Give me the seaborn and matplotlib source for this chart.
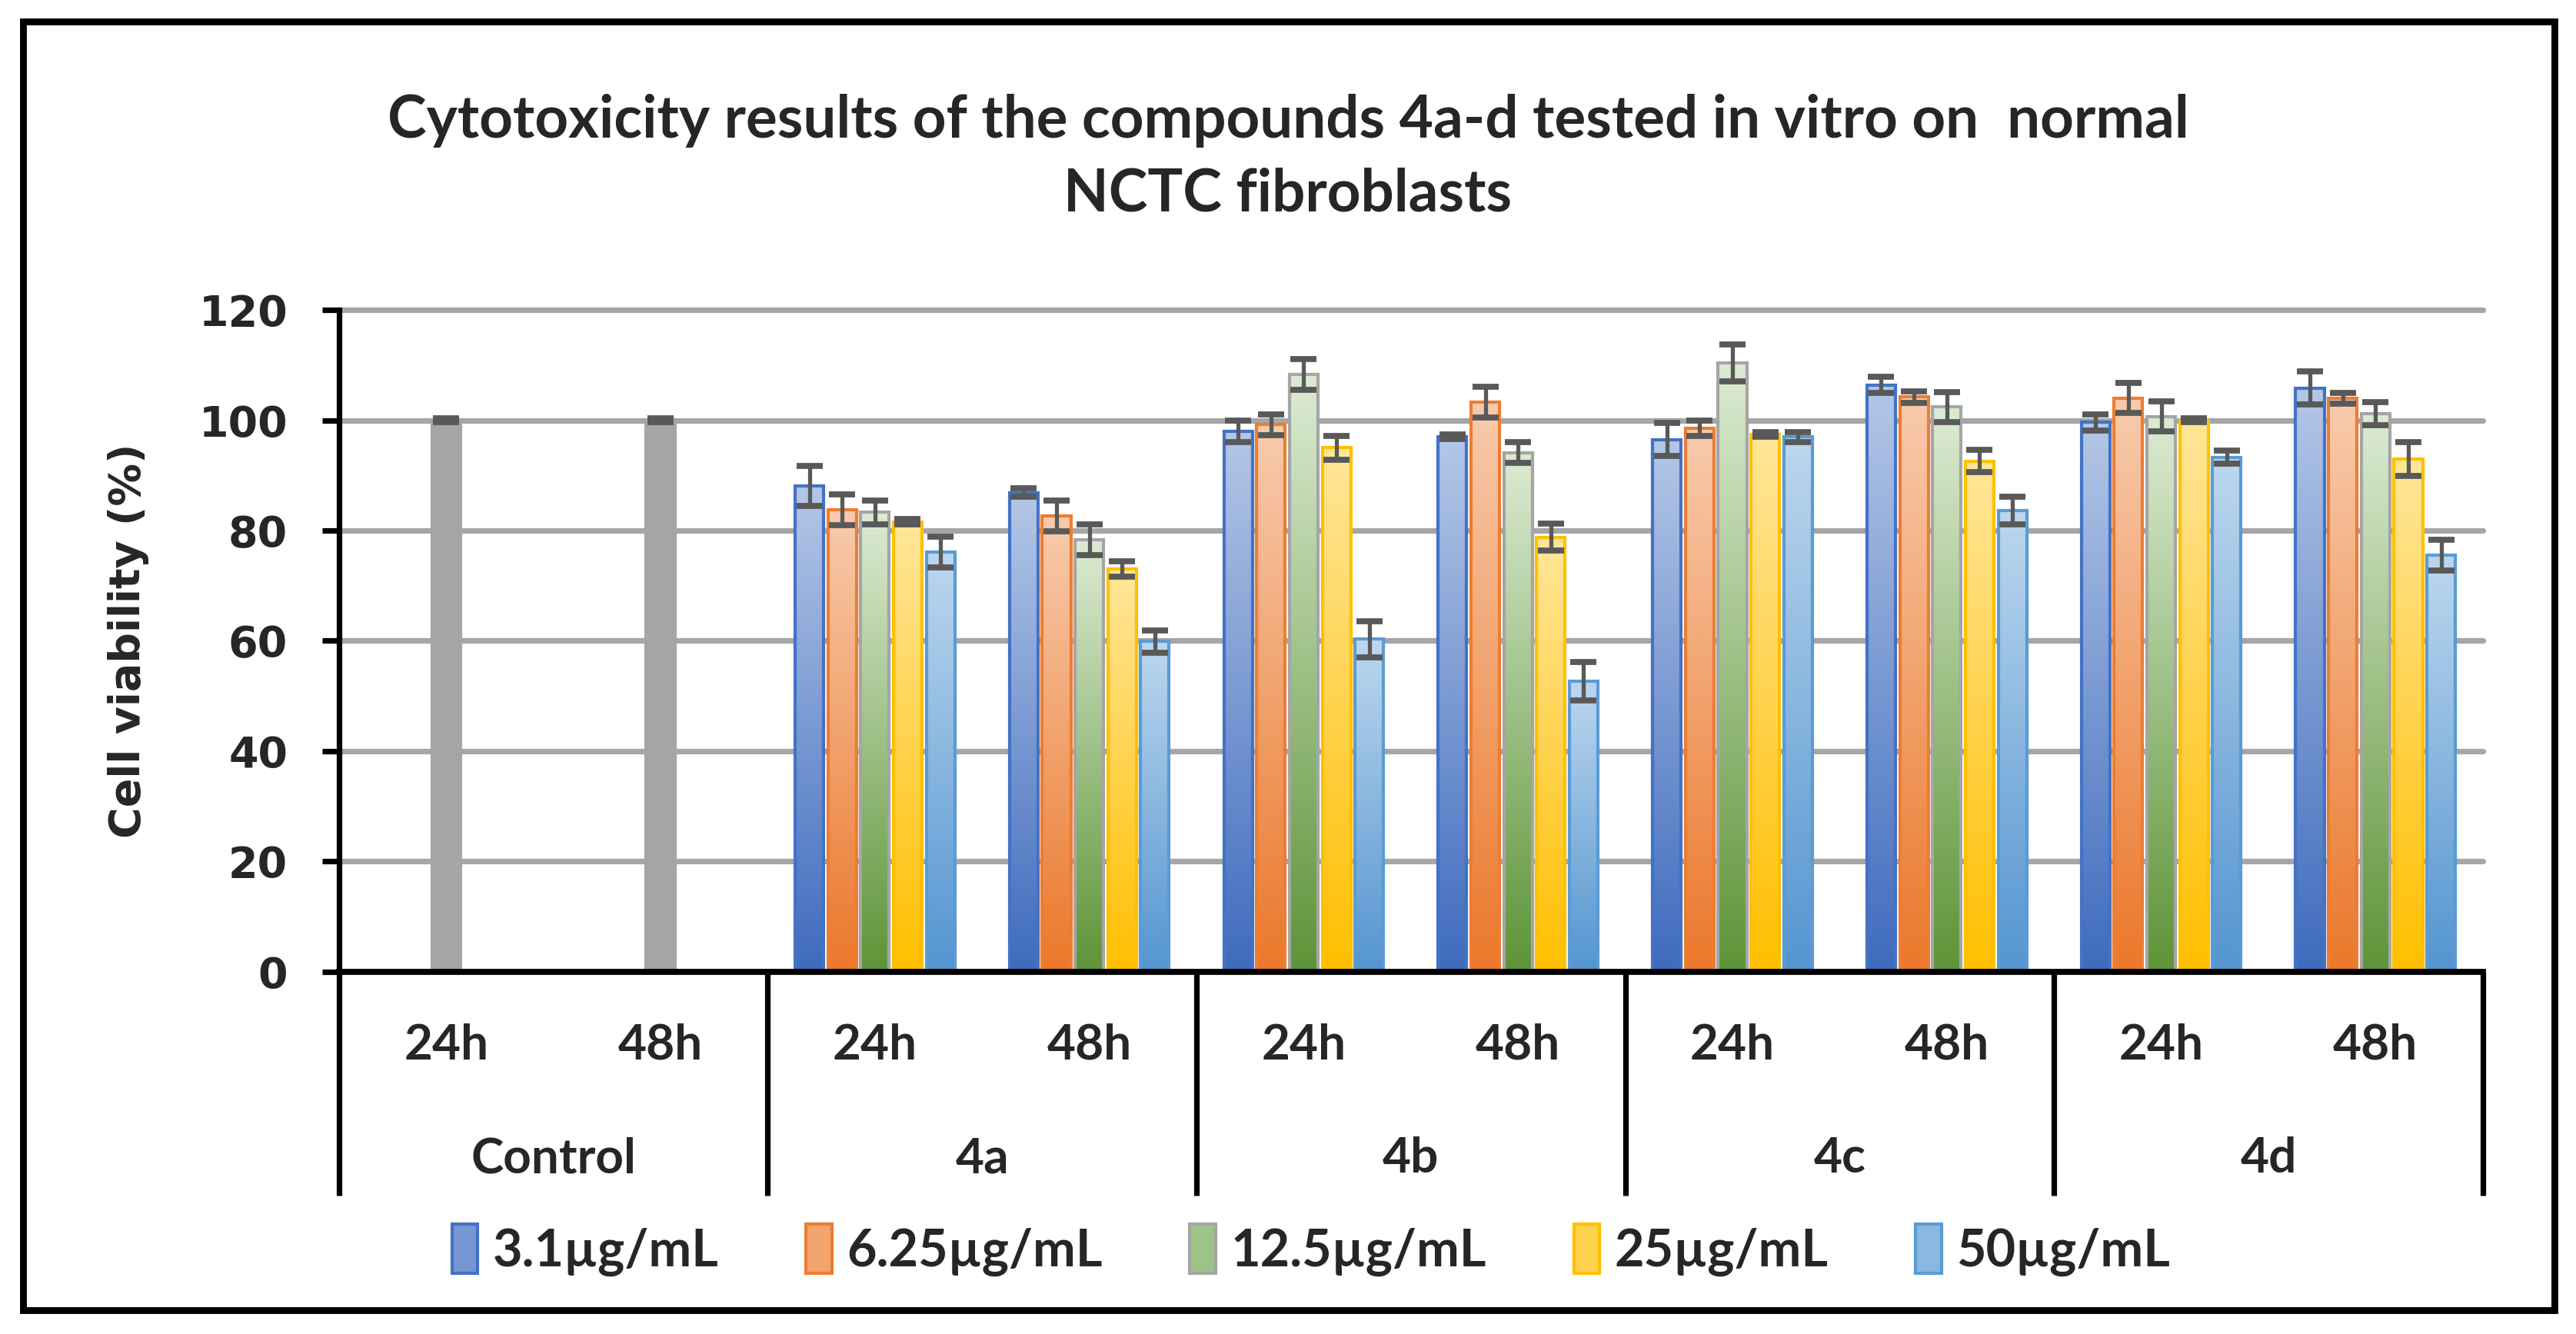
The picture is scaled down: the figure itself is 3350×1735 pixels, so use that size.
import matplotlib
matplotlib.use('Agg')
import numpy as np
import pandas as pd
import seaborn as sns
from matplotlib import pyplot as plt
from matplotlib.patches import Patch, Rectangle
from matplotlib.colors import LinearSegmentedColormap
import matplotlib.transforms as mtransforms

# chart data
groups = ["Control", "4a", "4b", "4c", "4d"]
times = ["24h", "48h"]
concs = ["3.1µg/mL", "6.25µg/mL", "12.5µg/mL", "25µg/mL", "50µg/mL"]

nan = np.nan
v_3_1 = [nan, nan, 88.1, 86.9, 98.0, 97.0, 96.5, 106.4, 99.6, 105.8]
v_6_25 = [nan, nan, 83.8, 82.7, 99.2, 103.3, 98.6, 104.2, 104.0, 104.0]
v_12_5 = [100, 100, 83.3, 78.3, 108.3, 94.1, 110.4, 102.4, 100.7, 101.2]
v_25 = [nan, nan, 81.6, 73.0, 95.0, 78.8, 97.4, 92.6, 100.0, 93.0]
v_50 = [nan, nan, 76.1, 59.9, 60.3, 52.7, 97.0, 83.6, 93.3, 75.5]

e_3_1 = [0, 0, 3.6, 0.8, 1.9, 0.4, 3.0, 1.5, 1.5, 3.0]
e_6_25 = [0, 0, 2.8, 2.8, 1.9, 2.8, 1.4, 1.0, 2.7, 1.0]
e_12_5 = [0.4, 0.4, 2.2, 2.8, 2.8, 1.9, 3.4, 2.7, 2.7, 2.1]
e_25 = [0, 0, 0.5, 1.4, 2.2, 2.4, 0.4, 2.0, 0.4, 3.1]
e_50 = [0, 0, 2.8, 2.0, 3.3, 3.5, 0.9, 2.5, 1.2, 2.8]

values = [v_3_1, v_6_25, v_12_5, v_25, v_50]
errors = [e_3_1, e_6_25, e_12_5, e_25, e_50]

conds = [g + " " + t for g in groups for t in times]
rows = []
for c, vals in zip(concs, values):
    for cond, v in zip(conds, vals):
        rows.append({"cond": cond, "conc": c, "viability": v})
df = pd.DataFrame(rows)

top_cols = ["#B4C7E7", "#F8CBAD", "#DCEBD3", "#FFE699", "#BDD7EE"]
bot_cols = ["#3F6BBE", "#EB782B", "#5E9438", "#FFBF00", "#5495D0"]
edge_cols = ["#4472C4", "#ED7D31", "#A5A5A5", "#FFC000", "#5B9BD5"]
mid_cols = ["#7797D4", "#F2A46E", "#9CC487", "#FFD24D", "#89B8E0"]
control_col = "#A5A5A5"
group_w = 0.765

sns.set_style("white")
plt.rcParams['font.family'] = ['Lato', 'DejaVu Sans']

fig = plt.figure(figsize=(16.75, 8.675), dpi=200)
ax = fig.add_axes([0.1316, 0.2715, 0.8322, 0.4962])

sns.barplot(data=df, x="cond", y="viability", hue="conc", order=conds,
            hue_order=concs, palette=mid_cols, width=group_w, gap=0.13,
            errorbar=None, saturation=1, legend=False, ax=ax, zorder=3)

# gradient fills, error bars
slot = group_w / len(concs)
grad = np.linspace(0, 1, 256).reshape(-1, 1)
cmaps = [LinearSegmentedColormap.from_list("g%d" % i, [bot_cols[i], top_cols[i]])
         for i in range(len(concs))]
xs, ys, es = [], [], []
for bar in list(ax.patches):
    h = bar.get_height()
    if np.isnan(h) or h == 0:
        continue
    x0, w = bar.get_x(), bar.get_width()
    xc = x0 + w / 2
    k = int(round(xc))
    i = int(round((xc - k + group_w / 2 - slot / 2) / slot))
    if k < 2:
        bar.set_facecolor(control_col)
        bar.set_edgecolor(control_col)
    else:
        ax.imshow(grad, extent=[x0, x0 + w, 0, h], origin="lower", cmap=cmaps[i],
                  aspect="auto", zorder=2.9, interpolation="bicubic")
        bar.set_facecolor("none")
        bar.set_edgecolor(edge_cols[i])
    bar.set_linewidth(1.5)
    xs.append(xc)
    ys.append(h)
    es.append(errors[i][k])
ax.errorbar(xs, ys, yerr=es, fmt="none", ecolor="#595959", elinewidth=1.9,
            capsize=6, capthick=2.8, zorder=4)

ax.set_xlim(-0.5, 9.5)
ax.set_ylim(0, 120)

# axes styling
ax.set_yticks(range(0, 121, 20))
ax.yaxis.grid(True, color="#A6A6A6", lw=2.6)
ax.xaxis.grid(False)
ax.set_axisbelow(True)
for l in ax.get_ygridlines():
    l.set_clip_on(False)
for s in ["top", "right"]:
    ax.spines[s].set_visible(False)
ax.spines["left"].set_color("black")
ax.spines["left"].set_linewidth(2.6)
ax.spines["bottom"].set_color("black")
ax.spines["bottom"].set_linewidth(2.8)
ax.spines["bottom"].set_zorder(5)
ax.tick_params(axis="y", direction="out", length=8, width=2.6, color="black",
               pad=16, left=True)
for lab in ax.get_yticklabels():
    lab.set_family("DejaVu Sans")
    lab.set_fontweight("bold")
    lab.set_fontsize(20)

ax.set_xticks(range(10))
ax.set_xticklabels([t for g in groups for t in times], fontsize=23, fontweight="bold")
ax.tick_params(axis="x", length=0, pad=24)
ax.set_xlabel("")

ax.set_ylabel("Cell viability (%)", fontsize=20, fontweight="bold", family="DejaVu Sans")
ax.yaxis.set_label_coords(-0.0886, 0.5)

# category separators and group labels
trans = mtransforms.blended_transform_factory(ax.transData, ax.transAxes)
for xb in [-0.5, 1.5, 3.5, 5.5, 7.5, 9.5]:
    ax.plot([xb, xb], [0, -0.338], transform=trans, color="black", lw=2.6,
            clip_on=False, solid_capstyle="butt")
for j, g in enumerate(groups):
    ax.text(2 * j + 0.5, -0.282, g, transform=trans, ha="center", va="center",
            fontsize=23, fontweight="bold")

# title
fig.text(0.5, 0.882, "Cytotoxicity results of the compounds 4a-d tested in vitro on  normal\nNCTC fibroblasts",
         ha="center", va="center", fontsize=27.5, fontweight="bold", linespacing=1.45)

# legend
handles = [Patch(facecolor=mid_cols[i], edgecolor=edge_cols[i], lw=1.5) for i in range(5)]
fig.legend(handles, concs, loc="center", bbox_to_anchor=(0.509, 0.063), ncol=5,
           frameon=False, prop={"size": 24, "weight": "bold"}, handlelength=0.5,
           handleheight=1.1, handletextpad=0.3, columnspacing=1.7)

# outer frame
fig.patches.append(Rectangle((0.009, 0.018), 0.9826, 0.966, transform=fig.transFigure,
                             fill=False, edgecolor="black", lw=3.2))

fig.savefig("out.png", dpi=200, facecolor="white")
